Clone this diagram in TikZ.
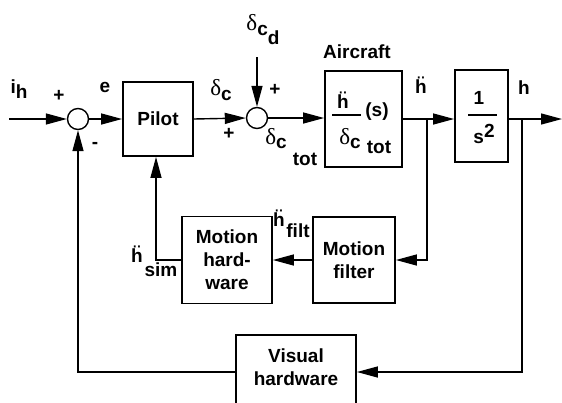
\documentclass[tikz,border=0pt]{standalone}
\usepackage{fontspec}
\setmainfont{Liberation Sans}
\newfontfamily\grk{Liberation Serif}
\usetikzlibrary{arrows.meta}
\newcommand{\bigf}{\fontsize{19}{23}\selectfont\bfseries}
\newcommand{\hdd}{ḧ}
\newcommand{\dl}{{\fontsize{23}{23}\selectfont\grk\mdseries δ}}
\begin{document}
\begin{tikzpicture}[x=1pt,y=-1pt,
  blk/.style={draw,line width=1.8pt,inner sep=0pt,align=center,font=\bigf},
  sumc/.style={draw,circle,line width=1.4pt,minimum size=21pt,inner sep=0pt},
  lbl/.style={inner sep=0pt,font=\bigf},
  hlbl/.style={lbl,anchor=base},
  wire/.style={line width=1.4pt},
  arr/.style={wire,-{Triangle[length=21pt,width=11pt]}},
  bar/.style={line width=1.2pt}
]
\useasboundingbox (0,0) rectangle (562,402);
% blocks
\node[blk,minimum width=70pt,minimum height=74pt] (pilot) at (158,119) {Pilot};
\node[blk,minimum width=77pt,minimum height=96pt] (ac) at (363.5,119) {};
\node[blk,minimum width=53pt,minimum height=92pt] (integ) at (481.5,116) {};
\node[blk,minimum width=90pt,minimum height=87pt] (hw) at (227,260) {Motion\\hard-\\ware};
\node[blk,minimum width=82pt,minimum height=86pt] (filt) at (354,260) {Motion\\filter};
\node[blk,minimum width=120pt,minimum height=74pt] (vis) at (296,372) {};
\node[lbl,align=center] (vistext) at (296,367) {Visual\\hardware};
% summing junctions
\node[sumc] (s1) at (78,119) {};
\node[sumc] (s2) at (257,118) {};
% aircraft transfer function
\node[hlbl] (acnum) at (343,108.5) {\hdd};
\draw[bar] (332,115) -- (361,115);
\node[lbl] (acs) at (377,112) {(s)};
\node[lbl] (acden) at (350,139) {\dl\raisebox{-4pt}{c}};
\node[lbl] (actot) at (379,147) {tot};
% integrator
\node[lbl] (one) at (479,98) {1};
\draw[bar] (468,115) -- (497,115);
\node[lbl] (ssq) at (484,134) {s\raisebox{6pt}{2}};
% labels
\node[lbl] (ih) at (19,89) {i\raisebox{-5pt}{h}};
\node[lbl] (p1) at (59,96) {+};
\node[lbl] (ee) at (105,87) {e};
\node[lbl] (m1) at (95,145) {-};
\node[lbl] (dc) at (221,90) {\dl\raisebox{-5pt}{c}};
\node[lbl] (p2) at (229,134) {+};
\node[lbl] (dcd) at (263,30) {\dl\raisebox{-5pt}{c\raisebox{-9pt}{d}}};
\node[lbl] (p3) at (275,90) {+};
\node[lbl] (dct) at (276,139) {\dl\raisebox{-4pt}{c}};
\node[lbl] (dctt) at (305,159) {tot};
\node[lbl] (aclbl) at (357,52) {Aircraft};
\node[hlbl] (hddl) at (421,93.5) {\hdd};
\node[lbl] (hl) at (524,88) {h};
\node[hlbl] (hf) at (279,226.5) {\hdd};
\node[lbl] (hft) at (298,231) {filt};
\node[hlbl] (hs) at (137,262.5) {\hdd};
\node[lbl] (hst) at (161,270) {sim};
% connectors
\coordinate (in) at (9,119);
\coordinate (dtop) at (257,57);
\coordinate (b1) at (427,119);
\coordinate (b2) at (522,119);
\coordinate (out) at (562,119);
\draw[arr] (in) -- (s1);
\draw[arr] (s1) -- (pilot);
\draw[arr] (pilot.east) -- (s2.west);
\draw[arr] (dtop) -- (s2);
\draw[arr] (s2.east) -- (ac.west |- s2.east);
\draw[arr] (ac.east) -- (integ.west |- ac.east);
\draw[arr] (integ.east |- ac.east) -- (out);
\draw[arr] (b1) |- (filt);
\draw[arr] (filt) -- (hw);
\draw[arr] (hw.west) -| ([xshift=-2pt]pilot.south);
\draw[arr] (b2) |- (vis);
\draw[arr] (vis.west) -| (s1.south);
\end{tikzpicture}
\end{document}
